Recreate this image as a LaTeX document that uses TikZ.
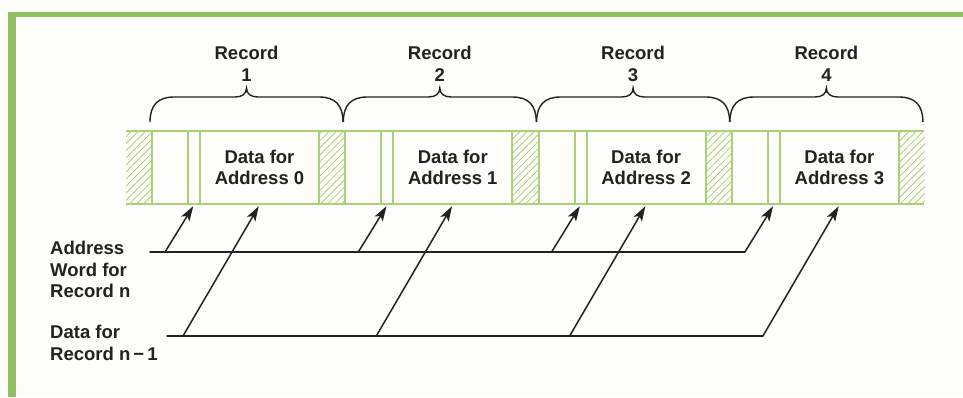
\documentclass[tikz,border=0pt]{standalone}
\usepackage{fontspec}
\setmainfont{Liberation Sans}
\usetikzlibrary{arrows.meta,patterns.meta}

\definecolor{frameGreen}{RGB}{146,192,96}
\definecolor{tapeGreen}{RGB}{172,207,122}
\definecolor{inkGray}{RGB}{34,34,34}
\definecolor{paperWhite}{RGB}{253,253,249}
\def\frameColor{frameGreen}
\def\tapeColor{tapeGreen}

\begin{document}
\begin{tikzpicture}[x=1pt,y=-1pt,
    font=\fontsize{18.5}{21.5}\selectfont\bfseries, text=inkGray,
    tapeline/.style={draw=\tapeColor, line width=1.8pt},
    cellbox/.style={tapeline, rectangle, inner sep=0pt, minimum height=73pt},
    hatchbox/.style={pattern={Lines[angle=45,distance=5pt,line width=0.8pt]}, pattern color=\tapeColor},
    pointer/.style={draw=inkGray, line width=1.5pt, shorten >=1.5pt, -{Stealth[length=15pt,width=9.5pt,inset=3.5pt]}},
    busline/.style={draw=inkGray, line width=1.5pt, line cap=round},
    recbrace/.style={draw=inkGray, line width=1.4pt}]

    % Define parameters
    \def\tapeTop{131}
    \def\tapeBot{204}
    \def\tapeMid{167.5}
    \def\recLen{193.3}

    \useasboundingbox (0,0) rectangle (963,397);
    \fill[paperWhite] (0,0) rectangle (963,397);

    % frame
    \fill[\frameColor] (8,12) rectangle (963,17);
    \fill[\frameColor] (8,12) rectangle (16,397);

    % tape
    \fill[hatchbox] (126,\tapeTop) rectangle (152,\tapeBot);
    \draw[tapeline] (126,\tapeTop) -- (924,\tapeTop);
    \draw[tapeline] (126,\tapeBot) -- (924,\tapeBot);

    % records
    \foreach \k in {0,...,3} {
        \pgfmathsetmacro{\s}{152+\k*\recLen}
        \pgfmathtruncatemacro{\n}{\k+1}
        \fill[hatchbox] (\s+167,\tapeTop) rectangle (\s+\recLen,\tapeBot);
        \draw[tapeline] (\s,\tapeTop) -- (\s,\tapeBot);
        \node[cellbox, minimum width=12pt] (addr\n) at (\s+42,\tapeMid) {};
        \node[cellbox, minimum width=119pt, align=center] (data\n) at (\s+107.5,\tapeMid) {Data for\\Address \k};
        % brace and label
        \draw[recbrace] (\s-2,122) .. controls (\s-2,105) and (\s+6,97) .. (\s+22,97) -- (\s+83,97)
            .. controls (\s+90,97) and (\s+94.5,94) .. (\s+94.5,88)
            .. controls (\s+94.5,94) and (\s+99,97) .. (\s+106,97) -- (\s+167,97)
            .. controls (\s+183,97) and (\s+191,105) .. (\s+191,122);
        \node[align=center, inner sep=0pt] (rec\n) at (\s+94.5,64) {Record\\\n};
        % pointers
        \coordinate (aTail\n) at (\s+13,252);
        \coordinate (dTail\n) at (\s+31,336);
        \draw[pointer] (aTail\n) -- (addr\n.south);
        \draw[pointer] (dTail\n) -- (data\n.south);
    }

    % left labels and bus lines
    \node[anchor=north west, inner sep=0pt, align=left] (addrLabel) at (50,241) {Address\\Word for\\Record n};
    \node[anchor=north west, inner sep=0pt, align=left] (dataLabel) at (50,325) {Data for\\Record n\,−\,1};
    \coordinate (aStart) at (150,252);
    \coordinate (dStart) at (167,336);
    \draw[busline] (aStart) -- (aTail4);
    \draw[busline] (dStart) -- (dTail4);

\end{tikzpicture}
\end{document}
